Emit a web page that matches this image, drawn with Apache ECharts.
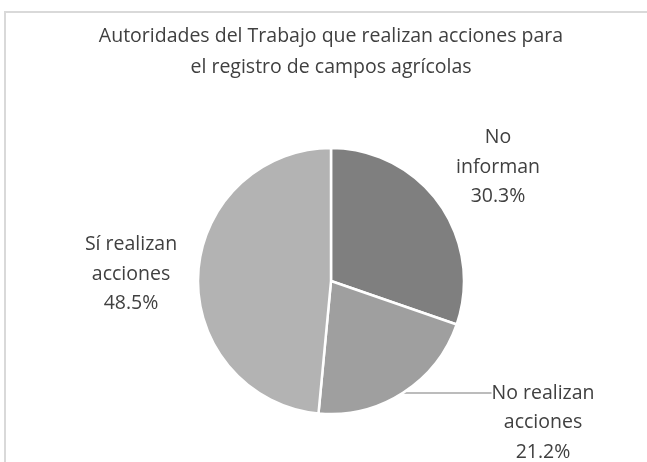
<!DOCTYPE html>
<html>
<head>
<meta charset="utf-8">
<script src="https://cdn.jsdelivr.net/npm/echarts@6/dist/echarts.min.js"></script>
<style>
html,body{margin:0;padding:0;background:#fff;}
#chart{width:647px;height:462px;}
</style>
</head>
<body>
<div id="chart"></div>
<script>
var titleText = 'Autoridades del Trabajo que realizan acciones para\nel registro de campos agrícolas';
var categories = ['No\ninforman', 'No realizan\nacciones', 'Sí realizan\nacciones'];
var values = [30.3, 21.2, 48.5];
var colors = ['#7f7f7f', '#9f9f9f', '#b3b3b3'];

var LH = 29.5;
var labelSpots = [[498, 167], [543, 393], [131, 274]];

var chart = echarts.init(document.getElementById('chart'), null, {renderer: 'canvas'});
var font = '"Open Sans", "Segoe UI", sans-serif';
chart.setOption({
  backgroundColor: '#ffffff',
  animation: false,
  graphic: [{
    type: 'polyline',
    shape: {points: [[5, 470], [5, 12], [660, 12]]},
    style: {stroke: '#d9d9d9', lineWidth: 2, fill: null},
    silent: true
  }],
  title: {
    text: titleText,
    left: 326,
    textAlign: 'center',
    top: 16,
    textStyle: {fontFamily: font, fontWeight: 400, fontSize: 19.5, color: '#404040', lineHeight: 31}
  },
  series: [{
    type: 'pie',
    center: [331, 281],
    radius: 133,
    startAngle: 90,
    clockwise: true,
    itemStyle: {borderColor: '#ffffff', borderWidth: 2.5},
    label: {
      show: true,
      position: 'outside',
      formatter: function (p) {
        var t = p.name + '\n' + p.value.toFixed(1) + '%';
        // leading blank lines keep the leader line at the first text line
        return p.dataIndex === 1 ? '\n\n' + t : t;
      },
      fontFamily: font,
      fontWeight: 400,
      fontSize: 19.5,
      lineHeight: LH,
      color: '#404040',
      align: 'center'
    },
    labelLine: {show: false},
    labelLayout: function (params) {
      var s = labelSpots[params.dataIndex];
      return {x: s[0], y: s[1], align: 'center', verticalAlign: 'middle'};
    },
    data: values.map(function (v, i) {
      var d = {
        name: categories[i],
        value: v,
        itemStyle: {color: colors[i]},
        labelLine: {show: false}
      };
      if (i === 1) {
        d.labelLine = {show: true, length: 0, length2: 86, lineStyle: {color: '#a6a6a6', width: 1.5}};
      }
      return d;
    })
  }]
});
</script>
</body>
</html>
